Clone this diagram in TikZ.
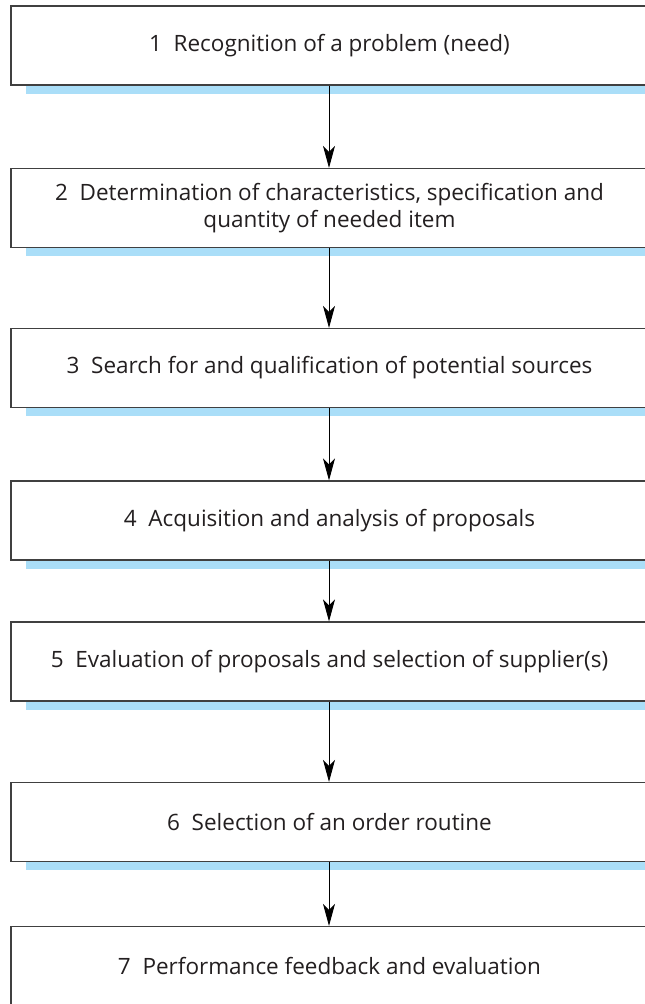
\documentclass[tikz,border=0pt]{standalone}
\usepackage{fontspec}
\setmainfont{Open Sans}
\usepackage{tikz}
\usetikzlibrary{arrows.meta, positioning, backgrounds}
\definecolor{boxline}{RGB}{64,64,64}
\definecolor{textgrey}{RGB}{35,31,32}
\definecolor{barblue}{RGB}{170,222,248}
\tikzset{
	stage/.style={rectangle, draw=boxline, line width=1.2pt, fill=white,
		minimum width=637pt, minimum height=79pt, inner sep=0pt,
		align=center, font=\fontsize{22.5}{27}\selectfont, text=textgrey},
	flow/.style={draw=black, line width=0.9pt,
		-{Stealth[length=22pt, width=12pt, inset=6pt]}}
}
\begin{document}
\begin{tikzpicture}[x=1pt, y=-1pt]
			\useasboundingbox (0,0) rectangle (645,1004);
			% Stages
			\node[stage] (S-1) at (329.5,45.5) {1\ \ Recognition of a problem (need)};
			\node[stage] (S-2) at (329.5,208) {2\ \ Determination of characteristics, specification and\\quantity of needed item};
			\node[stage] (S-3) at (329.5,368) {3\ \ Search for and qualification of potential sources};
			\node[stage] (S-4) at (329.5,520.5) {4\ \ Acquisition and analysis of proposals};
			\node[stage] (S-5) at (329.5,661.5) {5\ \ Evaluation of proposals and selection of supplier(s)};
			\node[stage] (S-6) at (329.5,822) {6\ \ Selection of an order routine};
			\node[stage] (S-7) at (329.5,966) {7\ \ Performance feedback and evaluation};
			
			% Blue bars under the boxes
			\begin{scope}[on background layer]
			\foreach \i in {1,...,6}
			\fill[barblue] ([xshift=16pt]S-\i.south west) rectangle ([yshift=-8pt]S-\i.south east);
			\end{scope}
			
			% Connections
			\foreach \i [evaluate=\i as \j using int(\i+1)] in {1,...,6}
			\draw[flow] (S-\i.south -| 329,0) -- (S-\j.north -| 329,0);
		\end{tikzpicture}
\end{document}
